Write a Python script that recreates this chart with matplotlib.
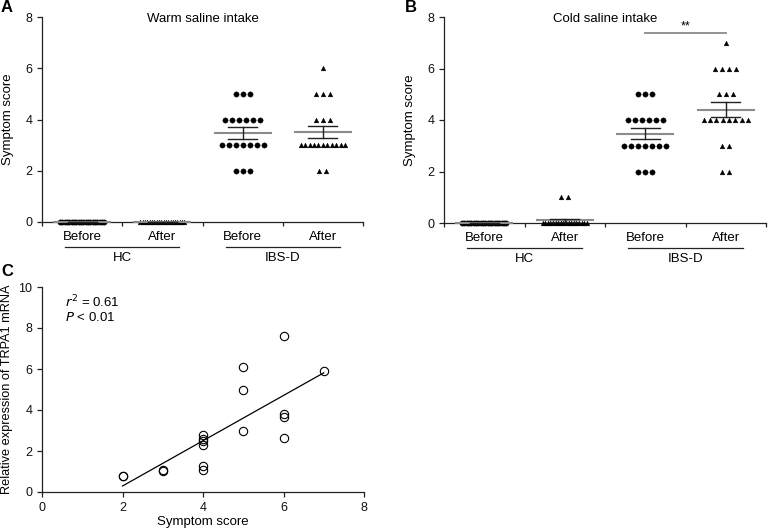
import numpy as np
import matplotlib
matplotlib.use("Agg")
import matplotlib.pyplot as plt
from matplotlib.transforms import blended_transform_factory

plt.rcParams['font.family'] = ['Liberation Sans', 'DejaVu Sans']
plt.rcParams['font.size'] = 9

# ---------------- data ----------------
categories = ["Before", "After", "Before", "After"]
groups = ["HC", "IBS-D"]

# Panel A: warm saline intake
warm_hc_before = [0] * 20
warm_hc_after = [0] * 20
warm_ibs_before = [5] * 3 + [4] * 6 + [3] * 7 + [2] * 3
warm_ibs_after = [6] * 1 + [5] * 3 + [4] * 3 + [3] * 11 + [2] * 2

# Panel B: cold saline intake
cold_hc_before = [0] * 20
cold_hc_after = [1] * 2 + [0] * 18
cold_ibs_before = [5] * 3 + [4] * 6 + [3] * 7 + [2] * 3
cold_ibs_after = [7] * 1 + [6] * 4 + [5] * 3 + [4] * 8 + [3] * 2 + [2] * 2

# Panel C: correlation
score = [2, 2, 3, 3, 4, 4, 4, 4, 4, 4, 5, 5, 5, 6, 6, 6, 6, 7]
trpa1 = [0.8, 0.78, 1.05, 1.02, 2.8, 2.6, 2.5, 2.3, 1.25, 1.05,
         6.1, 5.0, 3.0, 7.6, 3.8, 3.65, 2.65, 5.9]
r2_text = "0.61"
p_text = "< 0.01"

W, H = 768, 529
fig = plt.figure(figsize=(W / 100, H / 100), dpi=100)

GRAY = '#8a8a8a'
AX_COL = '#222222'


def px_axes(l, t, r, b):
    return fig.add_axes([l / W, 1 - b / H, (r - l) / W, (b - t) / H])


def style(ax):
    for s in ['top', 'right']:
        ax.spines[s].set_visible(False)
    for s in ['left', 'bottom']:
        ax.spines[s].set_color(AX_COL)
        ax.spines[s].set_linewidth(0.9)
    ax.tick_params(colors=AX_COL, length=3.5, width=0.9, labelsize=9,
                   labelcolor='#111111')


def swarm(ax, x0, vals, marker, ms):
    vals = np.asarray(vals)
    for v in np.unique(vals):
        n = int(np.sum(vals == v))
        sp = min(0.0875, 0.55 / (n - 1)) if n > 1 else 0
        xs = x0 + (np.arange(n) - (n - 1) / 2) * sp
        ax.plot(xs, [v] * n, ls='none', marker=marker, ms=ms, color='black',
                mec='black', mew=0.3, clip_on=False, zorder=4)
    m = vals.mean()
    sem = vals.std(ddof=1) / np.sqrt(len(vals))
    ax.plot([x0 - 0.35, x0 + 0.35], [m, m], color=GRAY, lw=1.5, zorder=5,
            clip_on=False)
    ax.plot([x0 - 0.18, x0 + 0.18], [m + sem, m + sem], color=AX_COL, lw=1.0,
            zorder=5, clip_on=False)
    ax.plot([x0 - 0.18, x0 + 0.18], [m - sem, m - sem], color=AX_COL, lw=1.0,
            zorder=5, clip_on=False)
    ax.plot([x0, x0], [m - sem, m + sem], color=AX_COL, lw=1.0, zorder=5,
            clip_on=False)


def dot_panel(ax, data, title):
    style(ax)
    ax.set_xlim(0.5, 4.5)
    ax.set_ylim(0, 8)
    ax.set_yticks([0, 2, 4, 6, 8])
    ax.set_xticks([0.5, 1.5, 2.5, 3.5, 4.5])
    ax.set_xticklabels([])
    ax.tick_params(axis='x', length=3)
    markers = ['o', '^', 'o', '^']
    sizes = [3.8, 3.4, 3.8, 3.4]
    for i, vals in enumerate(data):
        swarm(ax, i + 1, vals, markers[i], sizes[i])
    tr = blended_transform_factory(ax.transData, ax.transAxes)
    for i, c in enumerate(categories):
        ax.text(i + 1, -0.075, c, transform=tr, ha='center', va='center',
                fontsize=9.5)
    for j, g in enumerate(groups):
        cx = 1.5 + 2 * j
        ax.plot([cx - 0.71, cx + 0.71], [-0.122, -0.122], transform=tr,
                color=AX_COL, lw=0.9, clip_on=False)
        ax.text(cx, -0.175, g, transform=tr, ha='center', va='center',
                fontsize=9.5)
    ax.text(0.5, 0.99, title, transform=ax.transAxes, ha='center',
            va='center', fontsize=9.5)
    ax.set_ylabel("Symptom score", fontsize=9.5)
    ax.yaxis.set_label_coords(-0.107, 0.5)
    ax.yaxis.label.set_va('center')


axA = px_axes(42, 17, 363, 222)
dot_panel(axA, [warm_hc_before, warm_hc_after, warm_ibs_before, warm_ibs_after],
          "Warm saline intake")

axB = px_axes(444, 17, 766, 223)
dot_panel(axB, [cold_hc_before, cold_hc_after, cold_ibs_before, cold_ibs_after],
          "Cold saline intake")
axB.plot([3, 4], [7.38, 7.38], color=GRAY, lw=1.3, clip_on=False)
axB.text(3.5, 7.62, "**", ha='center', va='center', fontsize=9)

# Panel C
axC = px_axes(42, 287, 364, 492)
style(axC)
axC.set_xlim(0, 8)
axC.set_ylim(0, 10)
axC.set_xticks([0, 2, 4, 6, 8])
axC.set_yticks([0, 2, 4, 6, 8, 10])
axC.plot(score, trpa1, ls='none', marker='o', ms=6, mfc='none', mec='black',
         mew=0.8, clip_on=False, zorder=4)
k, b0 = np.polyfit(score, trpa1, 1)
xs = np.array([min(score), max(score)])
axC.plot(xs, k * xs + b0, color='black', lw=0.9)
axC.set_xlabel("Symptom score", fontsize=9.5)
axC.xaxis.set_label_coords(0.5, -0.146)
axC.xaxis.label.set_va('center')
axC.set_ylabel("Relative expression of TRPA1 mRNA", fontsize=9.2)
axC.yaxis.set_label_coords(-0.108, 0.5)
axC.yaxis.label.set_va('center')
axC.text(0.07, 0.925, r"$\it{r}^{2}$ = " + r2_text, transform=axC.transAxes,
         ha='left', va='center', fontsize=9.5)
axC.text(0.07, 0.85, r"$\it{P}$ " + p_text, transform=axC.transAxes,
         ha='left', va='center', fontsize=9.5)

# panel letters
for lab, (x, y) in {"A": (7, 8), "B": (411, 8), "C": (7, 271)}.items():
    fig.text(x / W, 1 - y / H, lab, ha='center', va='center',
             fontsize=12, fontweight='bold')

fig.savefig("out.png", dpi=100)
